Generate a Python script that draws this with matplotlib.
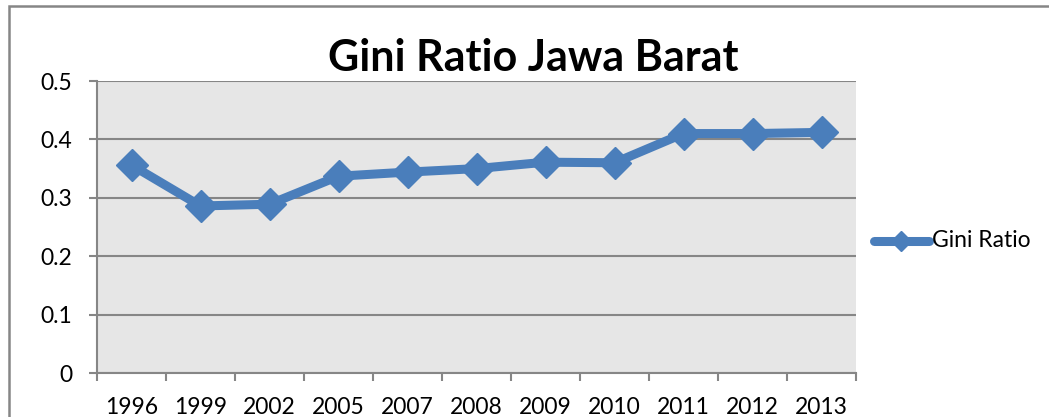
import matplotlib
matplotlib.use("Agg")
import matplotlib.pyplot as plt
from matplotlib.patches import Rectangle
from matplotlib.lines import Line2D

years = ["1996", "1999", "2002", "2005", "2007", "2008", "2009", "2010", "2011", "2012", "2013"]
gini = [0.356, 0.286, 0.289, 0.337, 0.344, 0.350, 0.361, 0.360, 0.410, 0.410, 0.412]
series_name = "Gini Ratio"
title = "Gini Ratio Jawa Barat"

plt.rcParams['font.family'] = ['Lato', 'DejaVu Sans']
W, H = 1049, 417
fig = plt.figure(figsize=(W / 100, H / 100), dpi=100)
ax = fig.add_axes([97 / W, 1 - 373 / H, (856 - 97) / W, (373 - 81) / H])

grid_c = "#868686"
blue = "#4A7EBB"
fs = 16.5
ax.set_facecolor("#E6E6E6")
x = list(range(len(years)))
ax.plot(x, gini, color=blue, lw=6.5, marker="D", markersize=16, solid_joinstyle="round",
        solid_capstyle="round", zorder=3, label=series_name)
ax.set_xlim(-0.5, len(years) - 0.5)
ax.set_ylim(0, 0.5)
ax.set_yticks([0, 0.1, 0.2, 0.3, 0.4, 0.5])
ax.set_yticklabels(["0", "0.1", "0.2", "0.3", "0.4", "0.5"])
ax.yaxis.grid(True, color=grid_c, lw=1.5)
ax.set_axisbelow(True)
ax.set_xticks([i - 0.5 for i in range(len(years) + 1)])
ax.set_xticklabels([])
ax.set_xticks(x, minor=True)
ax.set_xticklabels(years, minor=True)
ax.tick_params(axis="x", which="major", direction="out", length=6, width=1.5, color=grid_c)
ax.tick_params(axis="x", which="minor", length=0, pad=17, labelsize=fs)
ax.tick_params(axis="y", direction="out", length=6, width=1.5, color=grid_c, pad=12, labelsize=fs)
for s in ["top", "right"]:
    ax.spines[s].set_visible(False)
for s in ["left", "bottom"]:
    ax.spines[s].set_color(grid_c)
    ax.spines[s].set_linewidth(1.5)

fig.text(533 / W, 1 - 58 / H, title, ha="center", va="center", fontsize=31, fontweight="bold")

# outer chart border
fig.patches.append(Rectangle((9 / W, -0.1), 1.2, 1 - 6 / H + 0.1, transform=fig.transFigure,
                             fill=False, edgecolor=grid_c, lw=1.8))

# legend
fig.lines.append(Line2D([874 / W, 929 / W], [1 - 241 / H] * 2, transform=fig.transFigure,
                        color=blue, lw=6.5, solid_capstyle="round"))
fig.lines.append(Line2D([901 / W], [1 - 241 / H], transform=fig.transFigure,
                        color=blue, marker="D", markersize=10, lw=0))
fig.text(932 / W, 1 - 241 / H, series_name, ha="left", va="center", fontsize=fs)

fig.savefig("out.png", dpi=100)
